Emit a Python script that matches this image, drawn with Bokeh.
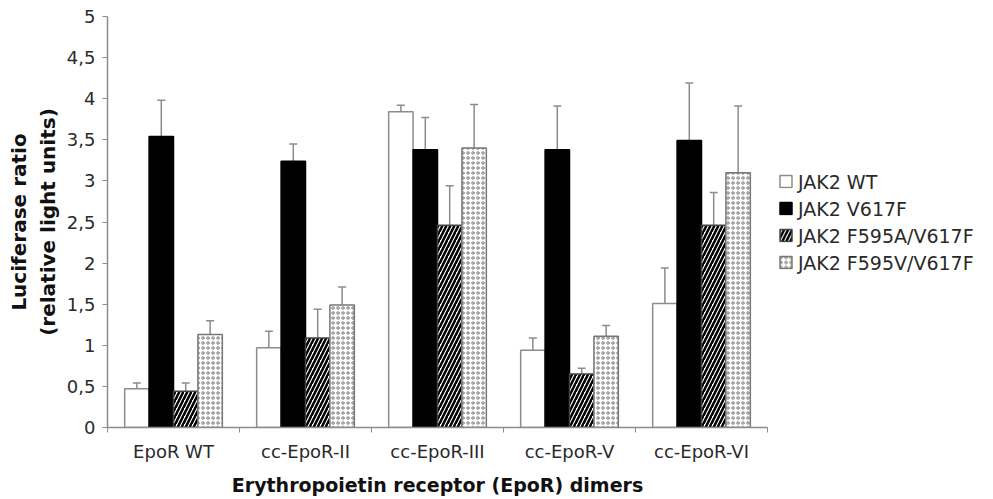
from bokeh.plotting import figure
from bokeh.models import (ColumnDataSource, FixedTicker, Whisker, TeeHead, Legend, LegendItem)
from bokeh.transform import dodge
from bokeh.embed import file_html
from bokeh.resources import INLINE

categories = ["EpoR WT", "cc-EpoR-II", "cc-EpoR-III", "cc-EpoR-V", "cc-EpoR-VI"]
series_names = ["JAK2 WT", "JAK2 V617F", "JAK2 F595A/V617F", "JAK2 F595V/V617F"]

jak2_wt = [0.47, 0.97, 3.84, 0.94, 1.51]
jak2_wt_err = [0.07, 0.20, 0.08, 0.15, 0.43]
jak2_v617f = [3.54, 3.24, 3.38, 3.38, 3.49]
jak2_v617f_err = [0.44, 0.21, 0.39, 0.53, 0.70]
jak2_f595a = [0.44, 1.09, 2.46, 0.65, 2.46]
jak2_f595a_err = [0.10, 0.35, 0.48, 0.07, 0.40]
jak2_f595v = [1.13, 1.49, 3.40, 1.11, 3.10]
jak2_f595v_err = [0.17, 0.22, 0.53, 0.13, 0.81]

y_ticks = [0, 0.5, 1, 1.5, 2, 2.5, 3, 3.5, 4, 4.5, 5]
y_tick_labels = ["0", "0,5", "1", "1,5", "2", "2,5", "3", "3,5", "4", "4,5", "5"]

FONT = "DejaVu Sans"
GRAY = "#8c8c8c"
TEXT = "#2a2a2a"

centers = [i + 0.5 for i in range(len(categories))]
bounds = [i for i in range(len(categories) + 1)]

src = ColumnDataSource(dict(
    x=centers,
    wt=jak2_wt, wt_top=[v + e for v, e in zip(jak2_wt, jak2_wt_err)],
    v=jak2_v617f, v_top=[v + e for v, e in zip(jak2_v617f, jak2_v617f_err)],
    a=jak2_f595a, a_top=[v + e for v, e in zip(jak2_f595a, jak2_f595a_err)],
    fv=jak2_f595v, fv_top=[v + e for v, e in zip(jak2_f595v, jak2_f595v_err)],
))

p = figure(frame_width=660, frame_height=411, x_range=(0, len(categories)), y_range=(0, 5),
           output_backend="svg", toolbar_location=None,
           min_border_left=107, min_border_right=226, min_border_top=16, min_border_bottom=72)
p.outline_line_color = None
p.xgrid.grid_line_color = None
p.ygrid.grid_line_color = None
p.background_fill_color = "white"
p.border_fill_color = "white"

bw = 0.185
offs = [-0.2775, -0.0925, 0.0925, 0.2775]
styles = [
    dict(field="wt", top="wt_top", fill_color="white", line_color=GRAY),
    dict(field="v", top="v_top", fill_color="black", line_color="black"),
    dict(field="a", top="a_top", fill_color="white", line_color="#444444",
         hatch_pattern="right_diagonal_line", hatch_color="black", hatch_scale=8, hatch_weight=2.5),
    dict(field="fv", top="fv_top", fill_color="white", line_color="#777777",
         hatch_pattern="ring", hatch_color="#7a7a7a", hatch_scale=5, hatch_weight=1),
]

items = []
for name, off, st in zip(series_names, offs, styles):
    st = dict(st)
    field = st.pop("field")
    top = st.pop("top")
    r = p.vbar(x=dodge("x", off), top=field, bottom=0, width=bw, source=src, line_width=1.5, **st)
    items.append(LegendItem(label=name, renderers=[r]))
    w = Whisker(base=dodge("x", off), lower=field, upper=top, source=src,
                line_color=GRAY, line_width=1.5,
                upper_head=TeeHead(size=8, line_color=GRAY, line_width=1.5), lower_head=None)
    p.add_layout(w)

legend = Legend(items=items, location="center_left", orientation="vertical",
                label_text_font=FONT, label_text_font_size="19px", label_text_color=TEXT,
                glyph_width=15, glyph_height=15, label_height=20, spacing=5, padding=2,
                margin=11, label_standoff=5, border_line_color=None, background_fill_alpha=0)
p.add_layout(legend, "right")

# x axis
xa = p.xaxis[0]
xa.ticker = FixedTicker(ticks=centers, minor_ticks=bounds)
xa.major_label_overrides = {c: lab for c, lab in zip(centers, categories)}
xa.major_tick_out = 0
xa.major_tick_in = 0
xa.minor_tick_out = 5
xa.minor_tick_in = 0
xa.minor_tick_line_color = GRAY
xa.axis_line_color = GRAY
xa.axis_line_width = 1.5
xa.major_label_text_font = FONT
xa.major_label_text_font_size = "18px"
xa.major_label_text_color = TEXT
xa.major_label_standoff = 8
xa.axis_label = "Erythropoietin receptor (EpoR) dimers"
xa.axis_label_text_font = FONT
xa.axis_label_text_font_style = "bold"
xa.axis_label_text_font_size = "19px"
xa.axis_label_text_color = "#111111"
xa.axis_label_standoff = 9

ya = p.yaxis[0]
ya.ticker = FixedTicker(ticks=y_ticks, minor_ticks=[])
ya.major_label_overrides = {t: lab for t, lab in zip(y_ticks, y_tick_labels)}
ya.major_tick_out = 5
ya.major_tick_in = 0
ya.major_tick_line_color = GRAY
ya.axis_line_color = GRAY
ya.axis_line_width = 1.5
ya.major_label_text_font = FONT
ya.major_label_text_font_size = "18px"
ya.major_label_text_color = TEXT
ya.major_label_standoff = 7
ya.axis_label = "Luciferase ratio\n(relative light units)"
ya.axis_label_text_font = FONT
ya.axis_label_text_font_style = "bold"
ya.axis_label_text_font_size = "20px"
ya.axis_label_text_color = "#111111"
ya.axis_label_standoff = 4

open("out.html", "w").write(file_html(p, INLINE))
